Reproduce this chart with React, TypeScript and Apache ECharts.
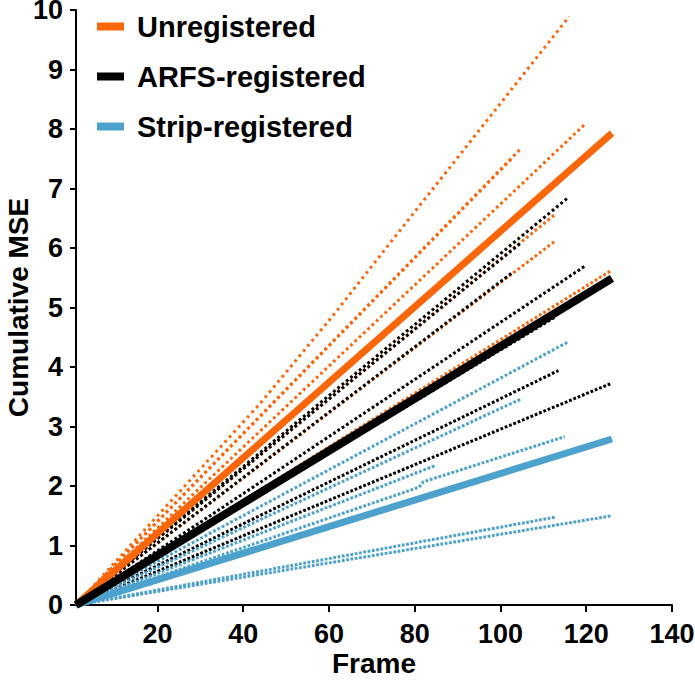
import React, { useEffect, useRef } from "react";
import * as echarts from "echarts";

// ---- data (frame, cumulative MSE) ----
const X_TICKS = [20, 40, 60, 80, 100, 120, 140];

const unregisteredMean = [[1, 0], [126, 7.93]];
const arfsMean = [[1, 0], [126, 5.49]];
const stripMean = [[1, 0], [126, 2.79]];

const unregisteredTrials = [
  [[1, 0], [44, 3.39], [61, 4.87], [73, 5.97], [116, 9.89]],
  [[1, 0], [120, 8.1]],
  [[1, 0], [105, 7.69]],
  [[1, 0], [103, 7.53]],
  [[1, 0], [113, 6.58]],
  [[1, 0], [113, 6.13]],
  [[1, 0], [126, 5.63]],
];

const arfsTrials = [
  [[1, 0], [116, 6.86]],
  [[1, 0], [105, 6.1]],
  [[1, 0], [120, 5.71]],
  [[1, 0], [103, 5.6]],
  [[1, 0], [113, 4.85]],
  [[1, 0], [113.5, 3.94]],
  [[1, 0], [126, 3.73]],
];

const stripTrials = [
  [[1, 0], [116, 4.43]],
  [[1, 0], [105, 3.47]],
  [[1, 0], [81, 1.98], [82, 2.07], [115, 2.83]],
  [[1, 0], [85, 2.35]],
  [[1, 0], [113, 1.48]],
  [[1, 0], [126, 1.5]],
];

const NAMES = ["Unregistered", "ARFS-registered", "Strip-registered"];

// ---- styles ----
const ORANGE = "#FA660A";
const BLACK = "#000000";
const BLUE = "#4DA2CD";
const FONT = "'Liberation Sans', Arial, Helvetica, sans-serif";

const GRID = { left: 76, right: 23, top: 10, bottom: 75 };
const W = 695;
const H = 680;
const PX_X = (W - GRID.left - GRID.right) / 139;
const PX_Y = (H - GRID.top - GRID.bottom) / 10;

function dashFor(points: number[][]) {
  const a = points[0];
  const b = points[points.length - 1];
  const s = ((b[1] - a[1]) / (b[0] - a[0])) * (PX_Y / PX_X);
  const period = PX_X * Math.sqrt(1 + s * s);
  const dot = 2.8;
  return [dot, Math.max(period - dot, 1.2)];
}

function trialSeries(trials: number[][][], color: string, prefix: string) {
  return trials.map((pts, i) => ({
    name: `${prefix}-trial-${i}`,
    type: "line",
    data: pts,
    showSymbol: false,
    silent: true,
    z: 2,
    itemStyle: { color },
    lineStyle: { color, width: 3, type: dashFor(pts), cap: "butt" },
  }));
}

function meanSeries(name: string, pts: number[][], color: string, width: number) {
  return {
    name,
    type: "line",
    data: pts,
    showSymbol: false,
    z: 5,
    itemStyle: { color },
    lineStyle: { color, width, cap: "butt" },
  };
}

export default function App() {
  const ref = useRef<HTMLDivElement>(null);

  useEffect(() => {
    if (!ref.current) return;
    const chart = echarts.init(ref.current, null, { renderer: "svg" });
    const axisLabelStyle = {
      color: "#000",
      fontFamily: FONT,
      fontWeight: "bold",
      fontSize: 27,
    };
    chart.setOption({
      animation: false,
      backgroundColor: "#fff",
      grid: { ...GRID, containLabel: false, outerBoundsMode: "none" },
      legend: {
        data: NAMES,
        orient: "vertical",
        left: 97,
        top: 12,
        padding: 0,
        icon: "rect",
        itemWidth: 27,
        itemHeight: 8,
        itemGap: 21,
        selectedMode: false,
        textStyle: {
          color: "#000",
          fontFamily: FONT,
          fontWeight: "bold",
          fontSize: 29,
          padding: [0, 0, 0, 8],
        },
      },
      xAxis: {
        type: "value",
        min: 1,
        max: 140,
        name: "Frame",
        nameLocation: "middle",
        nameGap: 44,
        nameMoveOverlap: false,
        nameTextStyle: { ...axisLabelStyle, fontSize: 28 },
        axisLine: { show: true, lineStyle: { color: "#000", width: 2 } },
        axisTick: {
          show: true,
          customValues: X_TICKS,
          length: 7,
          lineStyle: { color: "#000", width: 2 },
        },
        axisLabel: { ...axisLabelStyle, customValues: X_TICKS, margin: 15 },
        splitLine: { show: false },
      },
      yAxis: {
        type: "value",
        min: 0,
        max: 10,
        interval: 1,
        name: "Cumulative MSE",
        nameLocation: "middle",
        nameGap: 44,
        nameMoveOverlap: false,
        nameTextStyle: { ...axisLabelStyle, fontSize: 28 },
        axisLine: { show: true, lineStyle: { color: "#000", width: 2 } },
        axisTick: { show: true, length: 6, lineStyle: { color: "#000", width: 2 } },
        axisLabel: { ...axisLabelStyle, margin: 13 },
        splitLine: { show: false },
      },
      series: [
        ...trialSeries(unregisteredTrials, ORANGE, "u"),
        ...trialSeries(arfsTrials, BLACK, "a"),
        ...trialSeries(stripTrials, BLUE, "s"),
        meanSeries(NAMES[2], stripMean, BLUE, 7),
        meanSeries(NAMES[0], unregisteredMean, ORANGE, 7),
        meanSeries(NAMES[1], arfsMean, BLACK, 8),
      ],
    });
    return () => chart.dispose();
  }, []);

  return (
    <div
      ref={ref}
      style={{ position: "fixed", left: 0, top: 0, width: W, height: H }}
    />
  );
}
